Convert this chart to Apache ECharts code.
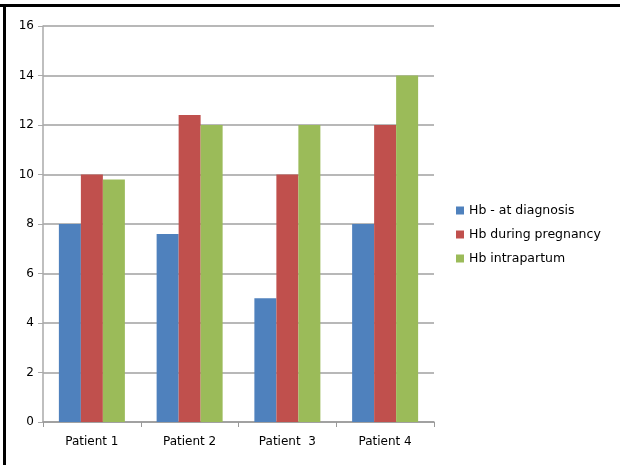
<!DOCTYPE html>
<html>
  <head>
    <meta charset="utf-8" />
    <title>Hb</title>
    <style type="text/css">
      body { margin: 0; background: #fff; }
      #main { width: 620px; height: 465px; }
    </style>
    <script type="text/javascript" src="https://cdn.jsdelivr.net/npm/echarts@6/dist/echarts.min.js"></script>
  </head>
  <body>
    <div id="main"></div>
    <script type="text/javascript">
    var categories = ['Patient 1', 'Patient 2', 'Patient  3', 'Patient 4'];
    var seriesNames = ['Hb - at diagnosis', 'Hb during pregnancy', 'Hb intrapartum'];
    var atDiagnosis = [8, 7.6, 5, 8];
    var duringPregnancy = [10, 12.4, 10, 12];
    var intrapartum = [9.8, 12, 12, 14];
    var colors = ['#4f81bd', '#c0504d', '#9bbb59'];

    var dom = document.getElementById('main');
    var myChart = echarts.init(dom);

    var values = [atDiagnosis, duringPregnancy, intrapartum];
    var series = seriesNames.map(function (name, i) {
      return {
        name: name,
        type: 'bar',
        data: values[i],
        barWidth: 22,
        barGap: '0%',
        itemStyle: { color: colors[i] }
      };
    });

    var option = {
      animation: false,
      textStyle: { fontFamily: 'DejaVu Sans', color: '#000' },
      grid: { left: 43, top: 26, right: 186, bottom: 43 },
      legend: {
        orient: 'vertical',
        left: 451,
        top: 199,
        itemWidth: 8,
        itemHeight: 8,
        itemGap: 11,
        icon: 'rect',
        textStyle: { fontSize: 12.5, color: '#000', fontFamily: 'DejaVu Sans' },
        data: seriesNames
      },
      xAxis: {
        type: 'category',
        data: categories,
        axisLine: { lineStyle: { color: '#999', width: 1.5 } },
        axisTick: { show: true, length: 5, lineStyle: { color: '#999' } },
        axisLabel: { fontSize: 12, color: '#000', margin: 14 }
      },
      yAxis: {
        type: 'value',
        min: 0,
        max: 16,
        interval: 2,
        axisLine: { show: true, lineStyle: { color: '#aaa', width: 1.5 } },
        axisTick: { show: true, length: 5, lineStyle: { color: '#aaa' } },
        axisLabel: { fontSize: 12, color: '#000', margin: 9 },
        splitLine: { lineStyle: { color: '#a0a0a0', width: 1.5 } }
      },
      graphic: [
        { type: 'rect', shape: { x: 0, y: 4, width: 620, height: 3 }, style: { fill: '#000' } },
        { type: 'rect', shape: { x: 3, y: 4, width: 3, height: 461 }, style: { fill: '#000' } }
      ],
      series: series
    };

    myChart.setOption(option);
    </script>
  </body>
</html>
